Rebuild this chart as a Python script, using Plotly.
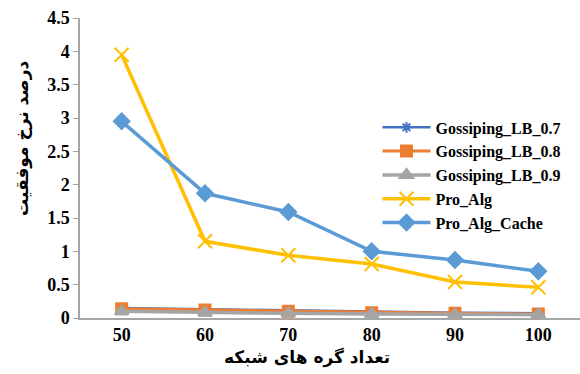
import plotly.graph_objects as go

# Network size (number of nodes) and success rate per algorithm
nodes = [50, 60, 70, 80, 90, 100]
gossip_07 = [0.15, 0.13, 0.11, 0.09, 0.08, 0.07]
gossip_08 = [0.14, 0.12, 0.10, 0.08, 0.07, 0.06]
gossip_09 = [0.10, 0.08, 0.07, 0.06, 0.05, 0.05]
pro_alg = [3.95, 1.15, 0.94, 0.81, 0.54, 0.46]
pro_alg_cache = [2.95, 1.87, 1.59, 1.00, 0.87, 0.70]

y_ticks = [0, 0.5, 1, 1.5, 2, 2.5, 3, 3.5, 4, 4.5]
y_tick_text = ["0", "0.5", "1", "1.5", "2", "2.5", "3", "3.5", "4", "4.5"]

x_title = "تعداد گره های شبکه"
y_title = "درصد نرخ موفقیت"

series = [
    ("Gossiping_LB_0.7", gossip_07, "#4472C4", "asterisk-open", 9, 2.5),
    ("Gossiping_LB_0.8", gossip_08, "#ED7D31", "square", 11, 3),
    ("Gossiping_LB_0.9", gossip_09, "#A5A5A5", "triangle-up", 12, 3.5),
    ("Pro_Alg", pro_alg, "#FFC000", "x-thin-open", 14, 3.5),
    ("Pro_Alg_Cache", pro_alg_cache, "#5B9BD5", "diamond", 12, 3.5),
]

fig = go.Figure()
for name, vals, color, symbol, msize, lw in series:
    fig.add_trace(go.Scatter(
        x=nodes, y=vals, name=name, mode="lines+markers",
        line=dict(color=color, width=lw),
        marker=dict(symbol=symbol, size=msize, color=color,
                    line=dict(color=color, width=2)),
    ))

serif = "Liberation Serif, serif"
arabic = "DejaVu Sans"

fig.update_layout(
    width=580, height=374,
    margin=dict(l=80, r=0, t=18, b=56),
    paper_bgcolor="white", plot_bgcolor="white",
    font=dict(family=serif, color="#000000"),
    showlegend=True,
    legend=dict(
        x=0.595, y=0.692, xanchor="left", yanchor="top",
        font=dict(family=serif, size=16, color="#000000", weight=700),
        bgcolor="rgba(0,0,0,0)",
        itemwidth=48,
    ),
    xaxis=dict(
        range=[45, 105],
        tickvals=nodes, ticktext=[f"<b>{n}</b>" for n in nodes],
        tickfont=dict(family=serif, size=18, color="#000000"),
        showgrid=False, zeroline=False,
        showline=True, linecolor="#A6A6A6", linewidth=1.5,
        ticks="", ticklen=0,
    ),
    yaxis=dict(
        range=[0, 4.5],
        tickvals=y_ticks, ticktext=[f"<b>{t}</b>" for t in y_tick_text],
        tickfont=dict(family=serif, size=18, color="#000000"),
        showgrid=False, zeroline=False,
        showline=True, linecolor="#A6A6A6", linewidth=1.5,
        ticks="outside", ticklen=5, tickcolor="#A6A6A6",
    ),
    annotations=[
        dict(text=f"<b>{x_title}</b>", xref="paper", yref="paper",
             x=0.454, y=-0.133, xanchor="center", yanchor="middle",
             showarrow=False, font=dict(family=arabic, size=17, color="#000000")),
        dict(text=f"<b>{y_title}</b>", xref="paper", yref="paper",
             x=-0.116, y=0.6, xanchor="center", yanchor="middle",
             textangle=-90, showarrow=False,
             font=dict(family=arabic, size=17, color="#000000")),
    ],
)

fig.write_html("out.html")
